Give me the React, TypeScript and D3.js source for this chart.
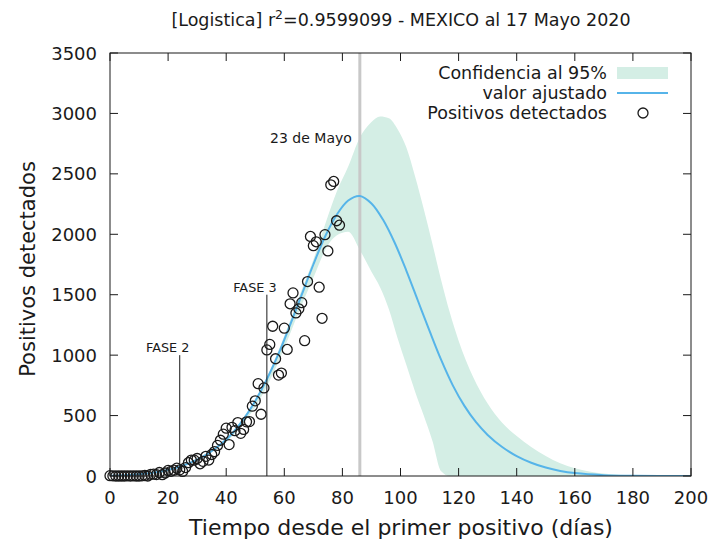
import React from "react";
import * as d3 from "d3";

// Daily detected positives, index = days since first positive
const positivos = [
  3, 1, 0, 0, 0, 0, 1, 0, 1, 0, 0, 1, 4, 0, 14, 15, 12, 29, 11, 25,
  46, 39, 48, 65, 51, 38, 70, 110, 132, 131, 145, 101, 121, 163, 132, 178, 202, 253, 296, 346,
  396, 260, 403, 375, 442, 353, 385, 448, 450, 578, 622, 764, 511, 729, 1043, 1089, 1239, 970, 835, 852,
  1223, 1047, 1425, 1515, 1349, 1383, 1434, 1120, 1609, 1982, 1906, 1938, 1562, 1305, 1997, 1862, 2409, 2437, 2112, 2075,
];

// Fitted curve
const ajusteDias = [0, 5, 10, 15, 20, 25, 30, 34, 38, 42, 46, 50, 54, 58, 62, 66, 70, 74, 78, 82, 86, 90, 94, 98, 102, 106, 110, 114, 118, 122, 126, 130, 135, 140, 145, 150, 155, 160, 170, 180, 200];
const ajusteValores = [3, 7, 15, 28, 50, 85, 135, 190, 260, 350, 470, 620, 800, 1010, 1250, 1500, 1750, 1980, 2160, 2280, 2317, 2255, 2120, 1930, 1700, 1450, 1200, 960, 750, 580, 445, 340, 240, 165, 110, 70, 42, 24, 7, 2, 0];

// 95% confidence band
const bandaDias = [35, 40, 45, 50, 55, 60, 65, 70, 75, 78, 82, 86, 90, 93, 96, 99, 102, 105, 108, 111, 114, 117, 120, 125, 130, 135, 140, 145, 150, 155, 160, 165, 170, 180, 190, 200];
const bandaSup = [215, 305, 450, 630, 870, 1160, 1480, 1790, 2150, 2350, 2560, 2800, 2930, 2975, 2960, 2870, 2720, 2480, 2210, 1920, 1620, 1350, 1120, 820, 600, 440, 330, 240, 165, 105, 65, 38, 20, 5, 1, 0];
const bandaInf = [205, 280, 410, 570, 790, 1060, 1360, 1640, 1910, 1990, 2020, 1870, 1690, 1560, 1380, 1140, 920, 700, 500, 290, 40, 0, 0, 0, 0, 0, 0, 0, 0, 0, 0, 0, 0, 0, 0, 0];

const xTicks = [0, 20, 40, 60, 80, 100, 120, 140, 160, 180, 200];
const yTicks = [0, 500, 1000, 1500, 2000, 2500, 3000, 3500];

const fases = [
  { dia: 24, tope: 1000, texto: "FASE 2" },
  { dia: 54, tope: 1500, texto: "FASE 3" },
];
const diaMayo23 = 86;
const textoMayo23 = "23 de Mayo";

const legendTexts = ["Confidencia al 95%", "valor ajustado", "Positivos detectados"];

const BAND = "#d4eee5";
const BLUE = "#56b4e9";
const INK = "#1a1a1a";
const FONT = "DejaVu Sans, sans-serif";

export default function App() {
  const W = 713, H = 539;
  const L = 110, R = 691, T = 53, B = 476;
  const x = d3.scaleLinear().domain([0, 200]).range([L, R]);
  const y = d3.scaleLinear().domain([0, 3500]).range([B, T]);

  const bandData = bandaDias.map((d, i) => ({ d, s: bandaSup[i], i: bandaInf[i] }));
  const area = d3.area<any>().x((p) => x(p.d)).y0((p) => y(p.i)).y1((p) => y(p.s)).curve(d3.curveMonotoneX);
  const fitData = ajusteDias.map((d, i) => ({ d, v: ajusteValores[i] }));
  const line = d3.line<any>().x((p) => x(p.d)).y((p) => y(p.v)).curve(d3.curveCatmullRom.alpha(0.5));

  const tick = 8;

  return (
    <svg width={W} height={H} style={{ position: "absolute", left: 0, top: 0, background: "#fff" }} fontFamily={FONT}>
      <rect x={0} y={0} width={W} height={H} fill="#fff" />
      <defs>
        <clipPath id="plot">
          <rect x={L} y={T} width={R - L} height={B - T} />
        </clipPath>
      </defs>
      {/* title */}
      <text x={401} y={26} textAnchor="middle" fontSize={17.5} fill={INK}>
        [Logistica] r<tspan dy={-7} fontSize={12.5}>2</tspan><tspan dy={7}>=0.9599099 - MEXICO al 17 Mayo 2020</tspan>
      </text>

      <g clipPath="url(#plot)">
        <path d={area(bandData) || ""} fill={BAND} />
        <line x1={x(diaMayo23)} x2={x(diaMayo23)} y1={T} y2={B} stroke="#c8c8c8" strokeWidth={3} />
        <path d={line(fitData) || ""} fill="none" stroke={BLUE} strokeWidth={2} />
      </g>

      {/* phase annotations */}
      {fases.map((f) => (
        <g key={f.texto}>
          <line x1={x(f.dia)} x2={x(f.dia)} y1={y(f.tope)} y2={B} stroke={INK} strokeWidth={1} />
          <text x={x(f.dia) - 12} y={y(f.tope) - 3} textAnchor="middle" fontSize={12.8} fill={INK}>{f.texto}</text>
        </g>
      ))}
      <text x={x(diaMayo23) - 8} y={143} textAnchor="end" fontSize={14} fill={INK}>{textoMayo23}</text>

      {/* points */}
      {positivos.map((v, i) => (
        <circle key={i} cx={x(i)} cy={y(v)} r={5} fill="none" stroke={INK} strokeWidth={1.3} />
      ))}

      {/* frame */}
      <rect x={L} y={T} width={R - L} height={B - T} fill="none" stroke={INK} strokeWidth={1} />
      {xTicks.map((t) => (
        <g key={"x" + t}>
          <line x1={x(t)} x2={x(t)} y1={B} y2={B - tick} stroke={INK} />
          <line x1={x(t)} x2={x(t)} y1={T} y2={T + tick} stroke={INK} />
          <text x={x(t)} y={504} textAnchor="middle" fontSize={18} fill={INK}>{t}</text>
        </g>
      ))}
      {yTicks.map((t) => (
        <g key={"y" + t}>
          <line x1={L} x2={L + tick} y1={y(t)} y2={y(t)} stroke={INK} />
          <line x1={R} x2={R - tick} y1={y(t)} y2={y(t)} stroke={INK} />
          <text x={97} y={y(t) + 6.5} textAnchor="end" fontSize={18} fill={INK}>{t}</text>
        </g>
      ))}

      {/* axis titles */}
      <text x={401} y={535} textAnchor="middle" fontSize={22} fill={INK}>Tiempo desde el primer positivo (días)</text>
      <text transform="translate(35,269) rotate(-90)" textAnchor="middle" fontSize={21} fill={INK}>Positivos detectados</text>

      {/* legend */}
      <g>
        <rect x={617} y={67} width={51} height={12} fill={BAND} />
        <text x={607} y={79} textAnchor="end" fontSize={17.5} fill={INK}>{legendTexts[0]}</text>
        <line x1={617} x2={668} y1={93} y2={93} stroke={BLUE} strokeWidth={2} />
        <text x={607} y={99} textAnchor="end" fontSize={17.5} fill={INK}>{legendTexts[1]}</text>
        <circle cx={643} cy={113} r={5} fill="none" stroke={INK} strokeWidth={1.3} />
        <text x={607} y={119} textAnchor="end" fontSize={17.5} fill={INK}>{legendTexts[2]}</text>
      </g>
    </svg>
  );
}
